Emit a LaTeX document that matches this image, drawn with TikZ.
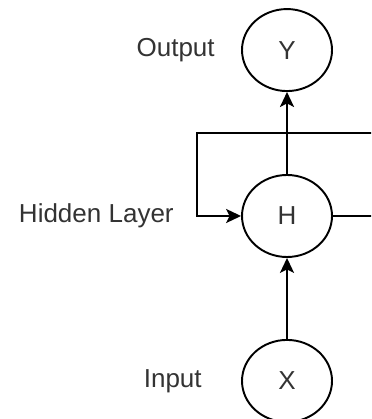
\documentclass[tikz,border=0pt]{standalone}
\usepackage{fontspec}
\setmainfont{Liberation Sans}
\definecolor{RNNtext}{HTML}{333333}
\usetikzlibrary{shapes.geometric, arrows.meta, positioning}

\begin{document}
\begin{tikzpicture}[
      unit/.style={draw, ellipse, line width=1.1pt, minimum width=1.8cm, minimum height=1.64cm,
                   font=\fontsize{14.8}{18}\selectfont, text=RNNtext},
      tag/.style={inner sep=0pt, font=\fontsize{14.8}{18}\selectfont, text=RNNtext},
      link/.style={-{Stealth[length=8.5pt, width=8pt, inset=2pt]}, line width=1.1pt}
   ]
   % Frame of the picture
   \useasboundingbox (0,0) rectangle (7.42,8.38);
   \clip (0,0) rectangle (7.42,8.38);
   % Units
   \node[unit] (H) at (5.74,4.06) {H};
   \node[unit, above=1.64cm of H] (Y) {Y};
   \node[unit, below=1.62cm of H] (X) {X};
   % Labels
   \node[tag, left=0.52cm of Y] (outlbl) {Output};
   \node[tag, left=1.34cm of H] (hidlbl) {Hidden Layer};
   \node[tag, left=0.78cm of X] (inlbl) {Input};
   % Forward connections
   \draw[link] (X) -- (H);
   \draw[link] (H) -- (Y);
   % Recurrent loop (leaves the frame on the right)
   \coordinate (loopR) at (7.8,4.06);
   \coordinate (loopT) at (7.8,5.72);
   \coordinate (loopL) at (3.94,5.72);
   \draw[link] (H.east) -- (loopR) -- (loopT) -- (loopL) -- (loopL |- H.west) -- (H.west);
\end{tikzpicture}
\end{document}
